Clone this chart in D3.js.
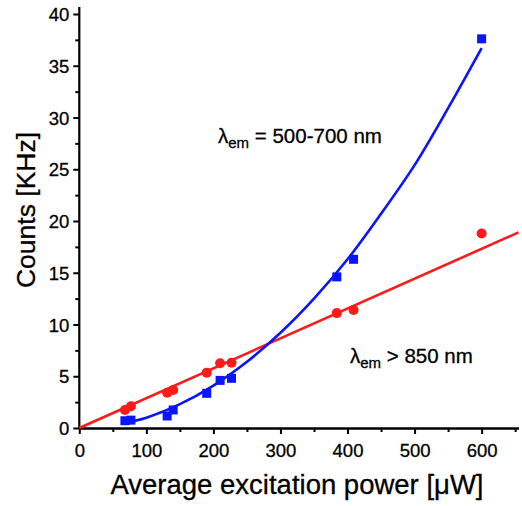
<!DOCTYPE html>
<html><head><meta charset="utf-8">
<script src="https://cdn.jsdelivr.net/npm/d3@7"></script>
<style>body{margin:0;background:#fff}svg{display:block}text{font-family:"Liberation Sans",Arial,sans-serif;fill:#000;stroke:#000;stroke-width:0.3px}</style>
</head><body><svg id="c" width="522" height="506"></svg>
<script>
// Measured data (x: average excitation power µW, y: counts KHz)
const blueX = [68, 77, 131, 140, 190, 210, 227, 384, 409, 600];
const blueY = [0.70, 0.76, 1.16, 1.74, 3.35, 4.6, 4.8, 14.6, 16.3, 37.6];
const redX  = [68, 77, 131, 140, 190, 210, 227, 384, 409, 600];
const redY  = [1.74, 2.1, 3.4, 3.67, 5.35, 6.25, 6.3, 11.1, 11.4, 18.8];
// Fit curves
const blueFitX = [65, 100, 150, 200, 250, 300, 350, 400, 450, 500, 550, 600];
const blueFitY = [0.45, 1.0, 2.3, 4.1, 6.4, 9.2, 12.5, 16.3, 20.7, 25.4, 30.9, 36.7];
const redFitX = [0, 655];
const redFitY = [0, 18.9];
const xTicks = [0, 100, 200, 300, 400, 500, 600];
const yTicks = [0, 5, 10, 15, 20, 25, 30, 35, 40];
const labelBlue = {main: "λ", sub: "em", rest: " = 500-700 nm"};
const labelRed = {main: "λ", sub: "em", rest: " > 850 nm"};

const svg = d3.select("#c");
const x = d3.scaleLinear().domain([0, 655]).range([79.3, 518.5]);
const y = d3.scaleLinear().domain([0, 40]).range([428, 14]);
const BLUE = "#0a14ff", RED = "#ff1a1a";

// axes
const xAx = svg.append("g").attr("transform", `translate(0,${y(0)})`)
  .call(d3.axisBottom(x).tickValues(xTicks).tickSize(6).tickPadding(5).tickSizeOuter(0));
const xMin = svg.append("g").attr("transform", `translate(0,${y(0)})`)
  .call(d3.axisBottom(x).tickValues(d3.range(50, 700, 100)).tickSize(4).tickFormat("").tickSizeOuter(0));
const yAx = svg.append("g").attr("transform", `translate(${x(0)},0)`)
  .call(d3.axisLeft(y).tickValues(yTicks).tickSize(6).tickPadding(4).tickSizeOuter(0));
const yMin = svg.append("g").attr("transform", `translate(${x(0)},0)`)
  .call(d3.axisLeft(y).tickValues(d3.range(2.5, 40, 5)).tickSize(4).tickFormat("").tickSizeOuter(0));
[xAx, xMin, yAx, yMin].forEach(g => {
  g.selectAll(".domain").attr("stroke", "#000").attr("stroke-width", 2.2);
  g.selectAll(".tick line").attr("stroke", "#000").attr("stroke-width", 2);
  g.selectAll("text").style("font-size", "18.5px").attr("fill", "#000");
});
yAx.select(".domain").attr("d", `M0,${y(0)}V7`);
yMin.select(".domain").remove();
xAx.selectAll("text").attr("dy", "0.95em");
yAx.selectAll("text").attr("dy", "0.36em");

// fit lines
const line = d3.line().x(d => x(d[0])).y(d => y(d[1]));
svg.append("path").datum(redFitX.map((v, i) => [v, redFitY[i]]))
  .attr("d", line).attr("fill", "none").attr("stroke", RED).attr("stroke-width", 2.6);
svg.append("path").datum(blueFitX.map((v, i) => [v, blueFitY[i]]))
  .attr("d", line.curve(d3.curveCatmullRom)).attr("fill", "none").attr("stroke", BLUE).attr("stroke-width", 2.6);

// points
svg.selectAll("rect.b").data(blueX.map((v, i) => [v, blueY[i]])).join("rect")
  .attr("x", d => x(d[0]) - 4.5).attr("y", d => y(d[1]) - 4.5)
  .attr("width", 9).attr("height", 9).attr("fill", BLUE);
svg.selectAll("circle.r").data(redX.map((v, i) => [v, redY[i]])).join("circle")
  .attr("cx", d => x(d[0])).attr("cy", d => y(d[1])).attr("r", 5).attr("fill", RED);

// annotations
function lab(o, px, py) {
  const t = svg.append("text").attr("x", px).attr("y", py).style("font-size", "20.5px");
  t.append("tspan").text(o.main);
  t.append("tspan").text(o.sub).attr("dy", 5).style("font-size", "15px");
  t.append("tspan").text(o.rest).attr("dy", -5);
}
lab(labelBlue, 218, 143);
lab(labelRed, 350, 363);

// axis titles
svg.append("text").attr("x", 297).attr("y", 494).attr("text-anchor", "middle")
  .style("font-size", "27.5px").text("Average excitation power [μW]");
svg.append("text").attr("transform", "translate(35,210) rotate(-90)").attr("text-anchor", "middle")
  .style("font-size", "26.5px").text("Counts [KHz]");
</script></body></html>
